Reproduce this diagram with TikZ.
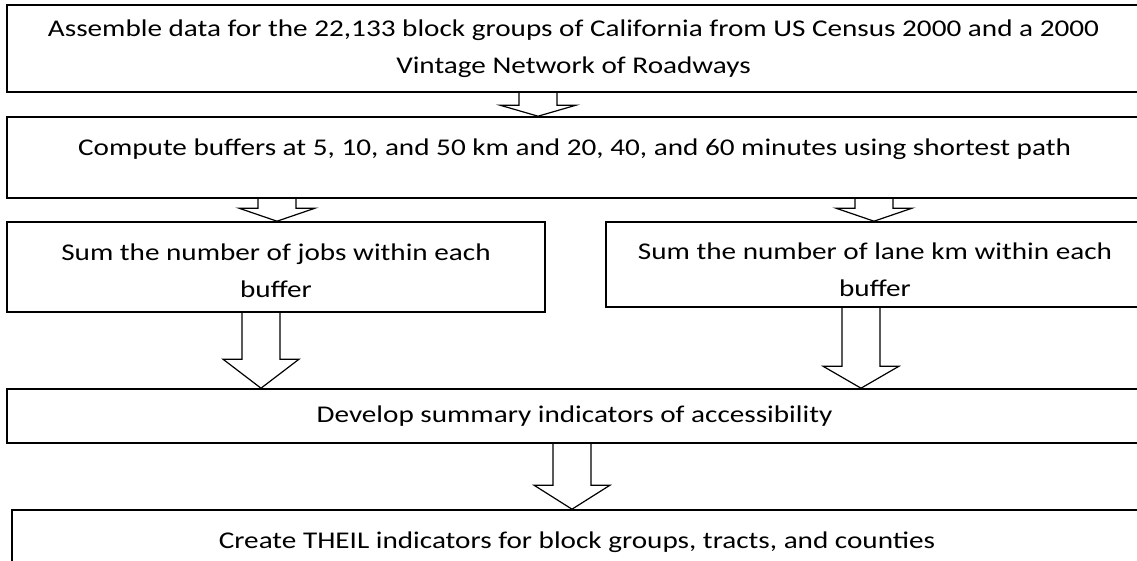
\documentclass[tikz,border=0pt]{standalone}
\usepackage{fontspec}
\setmainfont{Carlito}[FakeStretch=1.216]
\usetikzlibrary{calc}

\begin{document}
\begin{tikzpicture}[x=1pt, y=-1pt,
  every node/.style={draw, line width=1.6pt, align=center, inner sep=0pt, font=\fontsize{24}{36.5}\selectfont},
  fat/.style={line width=1.2pt, line join=miter}]
\clip (0,0) rectangle (1137,561);
\node[minimum width=1133pt, minimum height=87pt] (assemble) at (573.5,48.5) {Assemble data for the 22,133 block groups of California from US Census 2000 and a 2000\\Vintage Network of Roadways};
\node[minimum width=1135pt, minimum height=81pt, text height=17pt, text depth=21pt] (buffers) at (574.5,157.5) {Compute buffers at 5, 10, and 50 km and 20, 40, and 60 minutes using shortest path};
\node[minimum width=538pt, minimum height=90pt, text height=61pt, text depth=0pt] (jobs) at (276,267) {Sum the number of jobs within each\\buffer};
\node[minimum width=538pt, minimum height=85pt, text height=63pt, text depth=0pt] (lanes) at (875,264.5) {Sum the number of lane km within each\\buffer};
\node[minimum width=1135pt, minimum height=54pt] (summary) at (574.5,416) {Develop summary indicators of accessibility};
\node[minimum width=1130pt, minimum height=65pt] (theil) at (577,542.5) {Create THEIL indicators for block groups, tracts, and counties};

\foreach \a/\b/\x/\h in {assemble/buffers/538/11, buffers/jobs/277/13, buffers/lanes/874/13,
  jobs/summary/261/29, lanes/summary/861/22, summary/theil/572/24}{
  \coordinate (m) at (\x,0);
  \draw[fat] ($(\a.south -| m)+(-19,0)$) -- ($(\b.north -| m)+(-19,-\h)$) -- ++(-19,0) -- (\b.north -| m)
    -- ($(\b.north -| m)+(38,-\h)$) -- ++(-19,0) -- ($(\a.south -| m)+(19,0)$);
}
\end{tikzpicture}
\end{document}
